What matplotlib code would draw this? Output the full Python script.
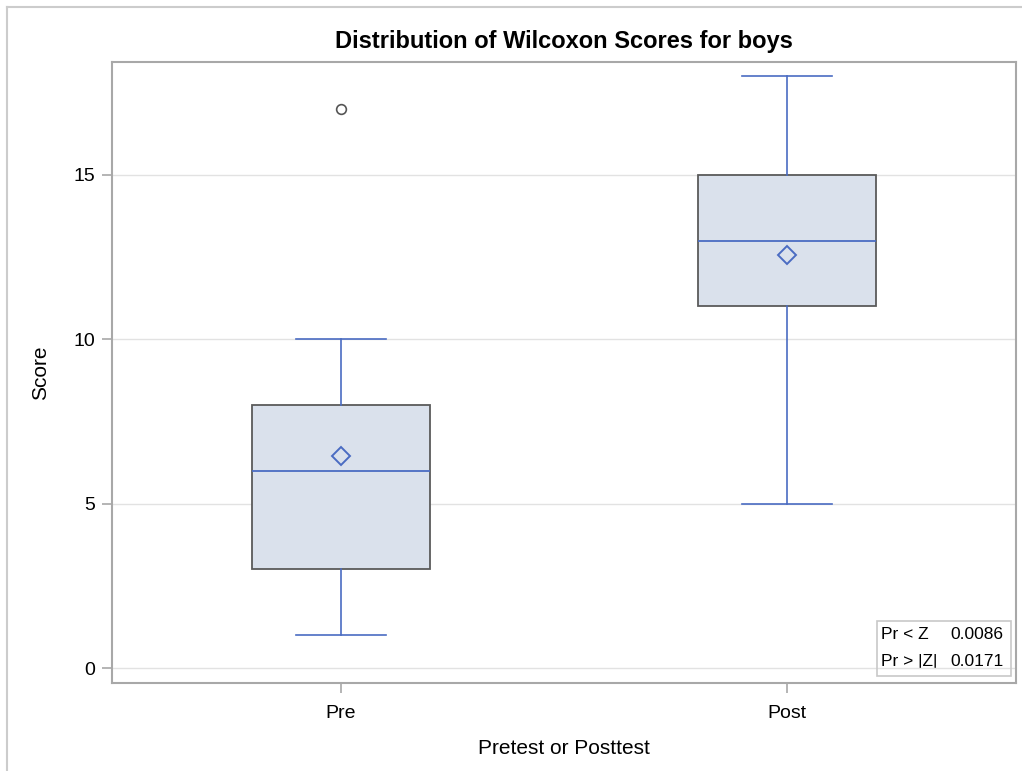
import matplotlib
matplotlib.use('Agg')
import matplotlib.pyplot as plt
from matplotlib.lines import Line2D

plt.rcParams['font.family'] = ['Liberation Sans', 'DejaVu Sans']

# summary stats for each group of wilcoxon scores
groups = ['Pre', 'Post']
whisk_lo = [1, 5]
q1 = [3, 11]
med = [6, 13]
q3 = [8, 15]
whisk_hi = [10, 18]
means = [6.44, 12.55]
outliers = [[17], []]

test_labels = ['Pr < Z', 'Pr > |Z|']
test_values = ['0.0086', '0.0171']

box_face = '#dae1ec'
box_edge = '#5a5a5a'
blue = '#4a6cc2'
axis_gray = '#a8a8a8'

fig = plt.figure(figsize=(10.22, 7.71), dpi=100)
ax = fig.add_axes([0.1096, 0.1141, 0.8845, 0.8055])

stats = []
for i, g in enumerate(groups):
    stats.append(dict(label=g, whislo=whisk_lo[i], q1=q1[i], med=med[i],
                      q3=q3[i], whishi=whisk_hi[i], mean=means[i],
                      fliers=outliers[i]))

ax.bxp(stats, positions=range(len(groups)), widths=0.4, patch_artist=True,
       showmeans=True, capwidths=0.2,
       boxprops=dict(facecolor=box_face, edgecolor=box_edge, linewidth=1.3),
       whiskerprops=dict(color=blue, linewidth=1.2),
       capprops=dict(color=blue, linewidth=1.2),
       medianprops=dict(color=blue, linewidth=1.3),
       meanprops=dict(marker='D', markersize=9, markerfacecolor='none',
                      markeredgecolor=blue, markeredgewidth=1.4),
       flierprops=dict(marker='o', markersize=7, markerfacecolor='none',
                       markeredgecolor='#555555', markeredgewidth=1.2))

ax.set_xlim(-0.513, 1.513)
ax.set_ylim(-0.455, 18.43)
ax.set_yticks([0, 5, 10, 15])
ax.yaxis.grid(True, color='#e2e2e2', linewidth=1)
ax.set_axisbelow(True)

for s in ax.spines.values():
    s.set_color(axis_gray)
    s.set_linewidth(1.5)
ax.tick_params(axis='both', colors=axis_gray, labelcolor='black',
               labelsize=14, length=7, width=1.2, pad=5)
ax.tick_params(axis='x', pad=9)

ax.set_xlabel('Pretest or Posttest', fontsize=15, labelpad=12)
ax.set_ylabel('Score', fontsize=15, labelpad=17)
ax.set_title('Distribution of Wilcoxon Scores for boys', fontsize=17,
             fontweight='bold', pad=10)

# inset table with the test p-values
tbl = ax.table(cellText=[[a, b] for a, b in zip(test_labels, test_values)],
               cellLoc='left', colWidths=[0.07, 0.078],
               bbox=[0.846, 0.012, 0.148, 0.088])
tbl.auto_set_font_size(False)
for (r, c), cell in tbl.get_celld().items():
    cell.set_fontsize(12.5)
    cell.set_linewidth(0)
    cell.set_facecolor('white')
    cell.PAD = 0.06
    if c == 1:
        cell.set_text_props(ha='right')
        cell.PAD = 0.1
frame = plt.Rectangle((0.846, 0.012), 0.148, 0.088, transform=ax.transAxes,
                      fill=False, edgecolor='#c8c8c8', linewidth=1.2,
                      zorder=5)
ax.add_patch(frame)

# outer frame of the graph area
fig.add_artist(Line2D([0.007, 0.007], [0, 0.991], color='#cccccc',
                      linewidth=1.5))
fig.add_artist(Line2D([0.007, 1], [0.991, 0.991], color='#cccccc',
                      linewidth=1.5))

fig.savefig('out.png', dpi=100)
